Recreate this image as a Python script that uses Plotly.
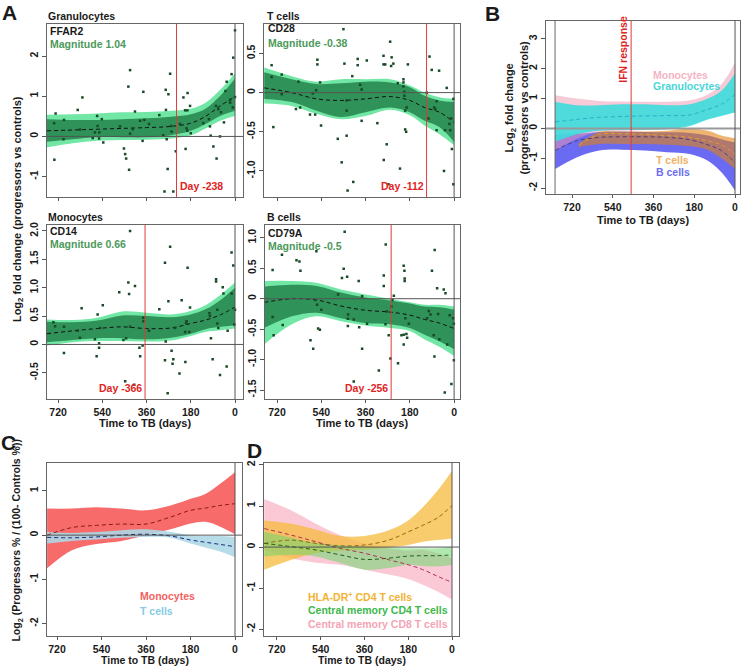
import plotly.graph_objects as go

W, H = 744, 667
FONT = "Liberation Sans, Arial, Helvetica, sans-serif"

# ---------------- Panel A data ----------------
A_TICKS = [720, 540, 360, 180, 0]
A_DAYS_L = [765, 660, 560, 460, 360, 260, 180, 120, 60, 0]   # left column grid
A_DAYS_R = [772, 660, 560, 460, 360, 260, 180, 120, 60, 0]   # right column grid

gran_mean = [0.14, 0.16, 0.18, 0.20, 0.22, 0.25, 0.33, 0.50, 0.76, 0.99]
gran_in_lo = [-0.13, -0.07, -0.02, -0.02, -0.02, 0.03, 0.14, 0.31, 0.51, 0.64]
gran_in_hi = [0.43, 0.41, 0.41, 0.43, 0.45, 0.49, 0.55, 0.69, 1.01, 1.44]
gran_out_lo = [-0.27, -0.17, -0.11, -0.09, -0.08, -0.05, 0.03, 0.20, 0.39, 0.51]
gran_out_hi = [0.54, 0.55, 0.57, 0.60, 0.61, 0.64, 0.69, 0.84, 1.16, 1.57]

tc_mean = [0.06, 0.0, -0.08, -0.10, -0.08, -0.05, -0.10, -0.19, -0.25, -0.38]
tc_in_lo = [-0.08, -0.12, -0.23, -0.31, -0.25, -0.19, -0.25, -0.36, -0.44, -0.63]
tc_in_hi = [0.26, 0.17, 0.11, 0.12, 0.14, 0.13, 0.07, -0.04, -0.10, -0.12]
tc_out_lo = [-0.14, -0.17, -0.27, -0.34, -0.30, -0.22, -0.29, -0.42, -0.53, -0.67]
tc_out_hi = [0.32, 0.21, 0.14, 0.17, 0.17, 0.17, 0.09, 0.0, -0.06, -0.08]

mono_mean = [0.19, 0.24, 0.28, 0.31, 0.28, 0.29, 0.37, 0.43, 0.52, 0.66]
mono_in_lo = [0.04, 0.08, 0.11, 0.11, 0.09, 0.12, 0.19, 0.27, 0.31, 0.34]
mono_in_hi = [0.40, 0.39, 0.42, 0.51, 0.50, 0.48, 0.53, 0.62, 0.78, 1.00]
mono_out_lo = [-0.02, 0.04, 0.06, 0.06, 0.05, 0.07, 0.15, 0.22, 0.25, 0.28]
mono_out_hi = [0.44, 0.43, 0.47, 0.58, 0.56, 0.53, 0.59, 0.69, 0.87, 1.09]

bc_mean = [-0.06, 0.0, -0.02, -0.12, -0.19, -0.22, -0.27, -0.34, -0.40, -0.49]
bc_in_lo = [-0.48, -0.29, -0.23, -0.32, -0.40, -0.42, -0.48, -0.59, -0.70, -0.83]
bc_in_hi = [0.20, 0.23, 0.21, 0.10, 0.02, -0.03, -0.08, -0.13, -0.14, -0.18]
bc_out_lo = [-0.75, -0.42, -0.29, -0.37, -0.44, -0.48, -0.53, -0.67, -0.79, -0.94]
bc_out_hi = [0.29, 0.29, 0.26, 0.15, 0.07, 0.0, -0.06, -0.10, -0.10, -0.13]

gran_pt_day = [735, 730, 736, 696, 698, 640, 621, 631, 579, 561, 559, 553, 542, 536, 570, 552, 468, 452, 447, 443,
               434, 427, 431, 427, 416, 407, 386, 376, 373, 369, 350, 308, 292, 282, 281, 278, 274, 271, 264, 287,
               251, 258, 260, 241, 224, 210, 203, 201, 194, 193, 197, 194, 183, 180, 129, 106, 102, 99, 88, 77,
               75, 61, 68, 57, 45, 39, 34, 20, 14, 7, 9, 0, 0, 20]
gran_pt_val = [-0.58, 0.57, 0.33, 0.41, -0.07, 0.66, 0.97, 0.17, -0.04, 0.51, 0.26, -0.05, 0.43, -0.15, 0.10, 0.10,
               0.25, -0.30, -0.44, -0.55, 1.24, 1.65, -0.83, 0.07, 0.18, 0.62, 0.39, -0.11, 1.11, 0.41, 0.31, 0.53,
               0.03, 1.16, 0.66, -0.07, -0.81, 1.05, 1.56, -1.37, -1.37, 0.12, 0.26, -0.37, 0.31, 0.97, 0.65, -0.31,
               0.65, 1.08, 0.20, 0.14, 0.76, 0.08, 0.33, 0.43, 0.25, 0.02, -0.25, 0.76, -0.55, 0.0, 0.68, 0.60,
               0.35, 1.13, 1.36, 0.84, 1.55, 1.96, 0.72, 2.64, 0.98, 0.91]

tc_pt_day = [742, 742, 735, 701, 701, 633, 643, 626, 586, 575, 561, 556, 556, 545, 541, 565, 473, 457, 450, 446,
             437, 437, 437, 414, 410, 433, 392, 392, 382, 376, 376, 355, 312, 287, 287, 280, 286, 274, 267, 260,
             254, 256, 247, 229, 220, 206, 206, 206, 203, 202, 199, 188, 193, 199, 195, 111, 104, 100, 91, 81,
             77, 71, 71, 61, 41, 37, 30, 19, 16, 12, 9, 3, 3]
tc_pt_val = [0.35, 0.20, -0.44, 0.23, -0.02, 0.14, -0.21, -0.19, -0.28, -0.01, 0.03, 0.42, 0.36, 0.13, -0.42,
             -0.28, -0.59, -0.89, 0.81, 0.37, -0.55, -0.23, -0.10, 0.21, -1.14, -1.25, 0.43, 0.35, 0.10, 0.04,
             -0.36, 0.41, -0.39, 0.47, 0.36, 0.36, -0.86, -0.66, -1.17, 0.65, 0.45, 0.34, 0.37, 0.12, -0.97,
             0.17, 0.13, 0.08, 0.01, -0.04, -0.23, 0.36, -0.19, -0.47, -0.50, 0.0, -0.33, 0.46, 0.29, -0.19,
             -0.21, -0.11, -0.48, 0.28, -1.0, -0.48, 0.06, -0.40, -0.48, -0.33, -0.72, -0.08, -1.17]

mono_pt_day = [739, 732, 696, 696, 624, 631, 640, 570, 559, 553, 553, 563, 549, 538, 471, 454, 443, 447, 434, 431,
               427, 410, 407, 389, 386, 376, 373, 373, 427, 350, 308, 285, 282, 285, 271, 264, 258, 254, 251, 244,
               274, 226, 217, 203, 199, 197, 202, 193, 183, 186, 104, 102, 98, 91, 77, 77, 72, 72, 68, 61,
               50, 47, 34, 30, 14, 7, 14, 0, 3]
mono_pt_val = [0.39, 0.32, 0.31, -0.15, 0.64, 0.12, 0.24, 0.09, 0.53, 0.02, -0.06, -0.21, 0.29, 0.69, 0.92, 0.08,
               0.11, -0.65, 1.09, 0.89, 0.31, -0.71, 1.03, -0.06, -0.21, -0.02, 0.47, 0.41, 2.0, 0.24, 0.62, 1.44,
               0.05, -0.28, 0.76, 1.72, -0.11, -0.34, -0.26, 0.29, -0.86, -0.51, 0.78, 0.22, 0.38, 0.41, -0.31,
               1.35, 0.65, 0.22, 0.55, 0.50, 0.11, -0.26, 1.15, 1.11, 0.61, 0.37, 0.29, -0.54, 1.01, 0.90, -0.39,
               0.24, 1.62, 1.39, 0.90, 0.61, 0.35]

bc_pt_day = [738, 738, 734, 700, 697, 641, 629, 625, 560, 564, 557, 553, 546, 540, 584, 573, 472, 456, 449, 445,
             435, 432, 432, 431, 408, 408, 388, 386, 374, 374, 354, 306, 286, 286, 278, 279, 273, 266, 259, 255,
             251, 245, 228, 214, 205, 205, 202, 201, 201, 205, 198, 194, 191, 184, 110, 103, 96, 90, 83, 80,
             79, 69, 65, 60, 42, 38, 35, 28, 18, 11, 4, 1, 1]
bc_pt_val = [0.47, -0.30, -0.60, 0.72, -0.43, 0.63, 0.61, 0.46, 0.78, -0.02, -0.10, -0.49, -0.51, -0.18, -0.68,
             -0.82, 0.07, 0.34, 0.49, 1.10, 0.36, -0.33, -0.45, -0.26, -1.36, -0.34, 0.29, -0.47, 0.04, -0.82,
             -0.41, -1.18, 0.38, 0.21, 0.89, -0.42, -0.21, -0.60, -0.98, -0.13, -0.02, 0.05, -1.06, -0.60, 0.54,
             -0.75, 0.46, 0.33, 0.29, -0.59, -0.32, -0.58, -0.64, -0.41, -0.32, -0.20, -0.26, 0.46, -0.60, -0.95,
             0.80, 0.17, -0.25, -0.67, 0.15, -1.54, 0.09, -0.75, -0.27, -1.40, -0.32, -1.01, -0.41]

A_TITLES = ["Granulocytes", "T cells", "Monocytes", "B cells"]
A_GENES = ["FFAR2", "CD28", "CD14", "CD79A"]
A_MAGNITUDE = ["1.04", "-0.38", "0.66", "-0.5"]
A_ONSET = [238, 112, 366, 256]

# ---------------- Panel B data ----------------
B_DAYS = [795, 700, 600, 500, 400, 300, 200, 120, 60, 0]
B_TC_DAYS = [690, 600, 500, 400, 300, 200, 120, 60, 0]
B_mono_hi = [1.11, 1.0, 0.92, 0.9, 0.89, 0.89, 0.94, 1.14, 1.48, 2.2]
B_mono_lo = [-0.75, -0.35, -0.12, -0.08, -0.05, -0.02, 0.12, 0.33, 0.45, 0.56]
B_gran_hi = [0.89, 0.78, 0.78, 0.81, 0.81, 0.78, 0.81, 1.0, 1.26, 1.85]
B_gran_lo = [-0.45, -0.2, -0.08, -0.05, -0.05, -0.03, 0.08, 0.30, 0.42, 0.53]
B_gran_mean = [0.22, 0.30, 0.37, 0.40, 0.42, 0.43, 0.45, 0.64, 0.81, 1.14]
B_tc_hi = [-0.5, -0.12, -0.1, -0.1, -0.08, 0.0, -0.08, -0.24, -0.33]
B_tc_lo = [-0.62, -0.52, -0.52, -0.52, -0.55, -0.6, -0.72, -1.0, -1.36]
B_tc_mean = [-0.56, -0.2, -0.18, -0.2, -0.24, -0.3, -0.42, -0.55, -0.87]
B_bc_hi = [-0.2, -0.18, -0.12, -0.1, -0.12, -0.13, -0.15, -0.24, -0.36, -0.47]
B_bc_lo = [-1.36, -0.97, -0.74, -0.71, -0.74, -0.8, -0.86, -1.08, -1.47, -2.08]
B_bc_mean = [-0.74, -0.42, -0.30, -0.28, -0.28, -0.30, -0.38, -0.55, -0.74, -1.15]
B_IFN_DAY = 459

# ---------------- Panel C data ----------------
C_DAYS = [760, 660, 560, 460, 360, 260, 180, 120, 60, 0]
C_mono_hi = [0.60, 0.60, 0.63, 0.60, 0.56, 0.67, 0.82, 0.93, 1.16, 1.42]
C_mono_lo = [-0.75, -0.34, -0.20, -0.13, 0.0, 0.13, 0.26, 0.30, 0.19, 0.02]
C_mono_mean = [0.0, 0.17, 0.22, 0.25, 0.25, 0.41, 0.56, 0.61, 0.67, 0.71]
C_tc_hi = [0.07, 0.05, 0.07, 0.11, 0.13, 0.07, 0.0, -0.02, -0.02, -0.04]
C_tc_lo = [-0.19, -0.13, -0.10, -0.06, -0.04, -0.06, -0.19, -0.28, -0.37, -0.50]
C_tc_mean = [-0.05, -0.06, -0.04, 0.0, 0.02, -0.02, -0.11, -0.16, -0.21, -0.26]

# ---------------- Panel D data ----------------
D_DAYS = [772, 660, 560, 460, 360, 260, 180, 120, 60, 0]
D_hla_hi = [0.65, 0.57, 0.43, 0.27, 0.27, 0.41, 0.65, 0.97, 1.37, 1.86]
D_hla_lo = [-0.55, -0.31, -0.15, -0.09, -0.07, -0.01, 0.05, 0.13, 0.17, 0.21]
D_hla_mean = [0.09, 0.17, 0.09, 0.03, 0.05, 0.17, 0.37, 0.53, 0.71, 1.01]
D_cm4_hi = [0.37, 0.23, 0.10, 0.05, 0.01, -0.01, -0.03, -0.03, -0.03, 0.01]
D_cm4_lo = [-0.23, -0.19, -0.23, -0.39, -0.55, -0.51, -0.43, -0.46, -0.47, -0.43]
D_cm4_mean = [0.09, 0.01, -0.07, -0.19, -0.30, -0.27, -0.22, -0.21, -0.21, -0.19]
D_cm8_hi = [1.17, 0.89, 0.57, 0.29, 0.09, -0.03, -0.09, -0.07, -0.15, -0.27]
D_cm8_lo = [-0.07, -0.27, -0.38, -0.43, -0.55, -0.67, -0.78, -0.92, -1.08, -1.28]
D_cm8_mean = [0.45, 0.29, 0.13, -0.03, -0.15, -0.31, -0.43, -0.55, -0.71, -0.86]

# ---------------- figure ----------------
fig = go.Figure()


def names(i):
    return ("x" if i == 1 else f"x{i}", "y" if i == 1 else f"y{i}")


def band(i, days, lo, hi, color):
    xa, ya = names(i)
    fig.add_trace(go.Scatter(x=days, y=lo, xaxis=xa, yaxis=ya, mode="lines",
                             line=dict(width=0, shape="spline"), hoverinfo="skip", showlegend=False))
    fig.add_trace(go.Scatter(x=days, y=hi, xaxis=xa, yaxis=ya, mode="lines",
                             line=dict(width=0, shape="spline"), fill="tonexty", fillcolor=color,
                             hoverinfo="skip", showlegend=False))


def mean_line(i, days, vals, color):
    xa, ya = names(i)
    fig.add_trace(go.Scatter(x=days, y=vals, xaxis=xa, yaxis=ya, mode="lines",
                             line=dict(width=1, shape="spline", color=color, dash="4px,3px"),
                             hoverinfo="skip", showlegend=False))


def points(i, days, vals):
    xa, ya = names(i)
    fig.add_trace(go.Scatter(x=days, y=vals, xaxis=xa, yaxis=ya, mode="markers",
                             marker=dict(size=2.5, color="#174a25", symbol="square"),
                             hoverinfo="skip", showlegend=False))


def txt(x, y, s, size=10.5, color="#1a1a1a", xanchor="left", angle=0):
    fig.add_annotation(x=x / W, y=1 - y / H, xref="paper", yref="paper", text=s, showarrow=False,
                       xanchor=xanchor, yanchor="middle", textangle=angle, borderpad=0,
                       font=dict(family=FONT, size=size, color=color, weight="bold"))


# axes boxes (pixel left, right, top, bottom), x range, y range, y ticks, show x labels
AXES = {
    1: ((47, 243, 21, 195), [765, -32.5], [-1.51, 2.8], [2, 1, 0, -1], ["2", "1", "0", "-1"], False),
    2: ((264, 460, 21, 195), [773, -24], [-1.334, 0.877], [0.5, 0, -0.5, -1.0], ["0.5", "0", "-0.5", "-1.0"], False),
    3: ((47, 243, 223, 398), [765, -32.5], [-0.965, 2.105], [2.0, 1.5, 1.0, 0.5, 0, -0.5],
        ["2.0", "1.5", "1.0", "0.5", "0", "-0.5"], True),
    4: ((265, 460, 223, 398), [769, -24], [-1.65, 1.21], [1.0, 0.5, 0, -0.5, -1.0, -1.5],
        ["1.0", "0.5", "0", "-0.5", "-1.0", "-1.5"], True),
    5: ((546, 740, 18, 192), [835, -22], [-2.2, 3.6], [3, 2, 1, 0, -1, -2], ["3", "2", "1", "0", "-1", "-2"], True),
    6: ((47, 242, 462, 636), [760.5, -28.3], [-2.28, 1.63], [1, 0, -1, -2], ["1", "0", "-1", "-2"], True),
    7: ((264, 459, 462, 636), [773, -28.8], [-2.17, 2.05], [2, 1, 0, -1, -2], ["2", "1", "0", "-1", "-2"], True),
}

tickfont = dict(family=FONT, size=10.5, color="#1a1a1a", weight="bold")
layout_axes = {}
for i, (box, xr, yr, yt, ytt, xlab) in AXES.items():
    l, r, t, b = box
    xa, ya = names(i)
    xkey = "xaxis" if i == 1 else f"xaxis{i}"
    ykey = "yaxis" if i == 1 else f"yaxis{i}"
    layout_axes[xkey] = dict(domain=[l / W, r / W], range=xr, autorange=False, anchor=ya,
                             tickvals=A_TICKS, ticktext=[str(v) for v in A_TICKS], showticklabels=xlab,
                             ticks="outside", ticklen=3, tickcolor="#555", showline=True, linecolor="#666",
                             linewidth=1, mirror=True, showgrid=False, zeroline=False, tickfont=tickfont,
                             fixedrange=True)
    layout_axes[ykey] = dict(domain=[1 - b / H, 1 - t / H], range=yr, autorange=False, anchor=xa,
                             tickvals=yt, ticktext=ytt, tickangle=-90, ticks="outside", ticklen=4,
                             tickcolor="#555", showline=True, linecolor="#666", linewidth=1, mirror=True,
                             showgrid=False, zeroline=False, tickfont=tickfont, fixedrange=True)

# ---- Panel A traces ----
LIGHT_G = "#72e6a4"
DARK_G = "#2f9258"
A_SETS = [
    (1, A_DAYS_L, gran_out_lo, gran_out_hi, gran_in_lo, gran_in_hi, gran_mean, gran_pt_day, gran_pt_val),
    (2, A_DAYS_R, tc_out_lo, tc_out_hi, tc_in_lo, tc_in_hi, tc_mean, tc_pt_day, tc_pt_val),
    (3, A_DAYS_L, mono_out_lo, mono_out_hi, mono_in_lo, mono_in_hi, mono_mean, mono_pt_day, mono_pt_val),
    (4, A_DAYS_R, bc_out_lo, bc_out_hi, bc_in_lo, bc_in_hi, bc_mean, bc_pt_day, bc_pt_val),
]
for i, days, olo, ohi, ilo, ihi, mn, pd_, pv in A_SETS:
    band(i, days, olo, ohi, LIGHT_G)
    band(i, days, ilo, ihi, DARK_G)
    mean_line(i, days, mn, "#111")
    points(i, pd_, pv)

# ---- Panel B traces ----
band(5, B_DAYS, B_bc_lo, B_bc_hi, "rgba(80,80,240,0.85)")
band(5, B_TC_DAYS, B_tc_lo, B_tc_hi, "rgba(225,130,20,0.6)")
band(5, B_DAYS, B_mono_lo, B_mono_hi, "rgba(240,150,175,0.5)")
band(5, B_DAYS, B_gran_lo, B_gran_hi, "rgba(60,220,220,0.9)")
mean_line(5, B_DAYS, B_gran_mean, "#1fb5c4")
mean_line(5, B_TC_DAYS, B_tc_mean, "#e49a30")
mean_line(5, B_DAYS, B_bc_mean, "#4a3f78")

# ---- Panel C traces ----
band(6, C_DAYS, C_mono_lo, C_mono_hi, "#f76b6b")
band(6, C_DAYS, C_tc_lo, C_tc_hi, "rgba(173,216,230,0.9)")
mean_line(6, C_DAYS, C_mono_mean, "#8b1a1a")
mean_line(6, C_DAYS, C_tc_mean, "#1a2a7a")

# ---- Panel D traces ----
band(7, D_DAYS, D_cm8_lo, D_cm8_hi, "rgba(247,172,190,0.65)")
band(7, D_DAYS, D_hla_lo, D_hla_hi, "rgba(245,185,60,0.75)")
band(7, D_DAYS, D_cm4_lo, D_cm4_hi, "rgba(110,215,110,0.55)")
mean_line(7, D_DAYS, D_hla_mean, "#8a6a14")
mean_line(7, D_DAYS, D_cm4_mean, "#1f5f1f")
mean_line(7, D_DAYS, D_cm8_mean, "#a8305a")

# ---- reference lines ----
shapes = []
for i in range(1, 8):
    xa, ya = names(i)
    zcol = "#999" if i == 5 else "#555"
    zw = 2 if i == 5 else 1
    shapes.append(dict(type="line", xref=f"{xa} domain", x0=0, x1=1, yref=ya, y0=0, y1=0,
                       line=dict(color=zcol, width=zw)))
    shapes.append(dict(type="line", xref=xa, x0=0, x1=0, yref=f"{ya} domain", y0=0, y1=1,
                       line=dict(color="#555", width=1)))
shapes.append(dict(type="line", xref="x5", x0=B_DAYS[0], x1=B_DAYS[0], yref="y5 domain", y0=0, y1=1,
                   line=dict(color="#666", width=1)))
shapes.append(dict(type="line", xref="x5", x0=B_IFN_DAY, x1=B_IFN_DAY, yref="y5 domain", y0=0, y1=1,
                   line=dict(color="#e03a3a", width=1)))
for k, d in enumerate(A_ONSET):
    xa, ya = names(k + 1)
    shapes.append(dict(type="line", xref=xa, x0=d, x1=d, yref=f"{ya} domain", y0=0, y1=1,
                       line=dict(color="#e23a3a", width=1)))

fig.update_layout(width=W, height=H, autosize=False, margin=dict(l=0, r=0, t=0, b=0),
                  paper_bgcolor="white", plot_bgcolor="white", showlegend=False, shapes=shapes,
                  **layout_axes)

# ---- text ----
RED = "#e02424"
GREEN_T = "#4c9a5b"
# panel letters
txt(9, 10, "A", size=21, xanchor="center")
txt(492, 11, "B", size=21, xanchor="center")
txt(8, 441, "C", size=21, xanchor="center")
txt(255, 450, "D", size=21, xanchor="center")

# panel A titles, genes, magnitudes
A_TEXT_POS = [(47, 13, 49, 28, 41), (266, 13, 267, 25, 40), (47, 215, 49, 229, 242), (266, 215, 267, 231, 244)]
for k in range(4):
    tx, ty, gx, gy, my = A_TEXT_POS[k]
    txt(tx, ty, A_TITLES[k])
    txt(gx, gy, A_GENES[k])
    txt(gx, my, "Magnitude " + A_MAGNITUDE[k], color=GREEN_T)

# Day labels
for k, d in enumerate(A_ONSET):
    xa, ya = names(k + 1)
    left = k == 0
    fig.add_annotation(x=d, y=0.02, xref=xa, yref=f"{ya} domain", text=f"Day -{d}", showarrow=False,
                       xanchor="left" if left else "right", yanchor="bottom", xshift=1 if left else -1,
                       font=dict(family=FONT, size=10.5, color=RED, weight="bold"))

# axis titles
txt(18, 207, "Log<sub>2</sub> fold change (progressors vs controls)", size=11, xanchor="center", angle=-90)
for cx, cy in [(145, 422), (362, 422), (643, 218)]:
    txt(cx, cy, "Time to TB (days)", size=11, xanchor="center")
for cx, cy in [(145, 660), (362, 660)]:
    txt(cx, cy, "Time to TB (days)", size=10.5, xanchor="center")
txt(516, 105, "Log<sub>2</sub> fold change<br>(progressors vs controls)", size=11, xanchor="center", angle=-90)
txt(17, 540, "Log<sub>2</sub> (Progressors % / (100- Controls %))", size=10.5, xanchor="center", angle=-90)

# panel B labels
txt(623, 47, "IFN response", size=10.5, color=RED, xanchor="center", angle=-90)
txt(652, 72, "Monocytes", color="#f5b3c3")
txt(652, 83, "Granulocytes", color="#48d6d6")
txt(655, 158, "T cells", color="#ecb264")
txt(655, 170, "B cells", color="#6c6cf0")

# panel C labels
txt(139, 596, "Monocytes", color="#f26262")
txt(139, 611, "T cells", color="#86cbe6")

# panel D labels
txt(307, 596, "HLA-DR<sup>+</sup> CD4 T cells", color="#f2b234")
txt(307, 610, "Central memory CD4 T cells", color="#3cb84a")
txt(307, 624, "Central memory CD8 T cells", color="#f4a4b6")

fig.write_html("out.html", config={"displayModeBar": False},
               post_script="document.body.style.margin='0';document.body.style.overflow='hidden';")
